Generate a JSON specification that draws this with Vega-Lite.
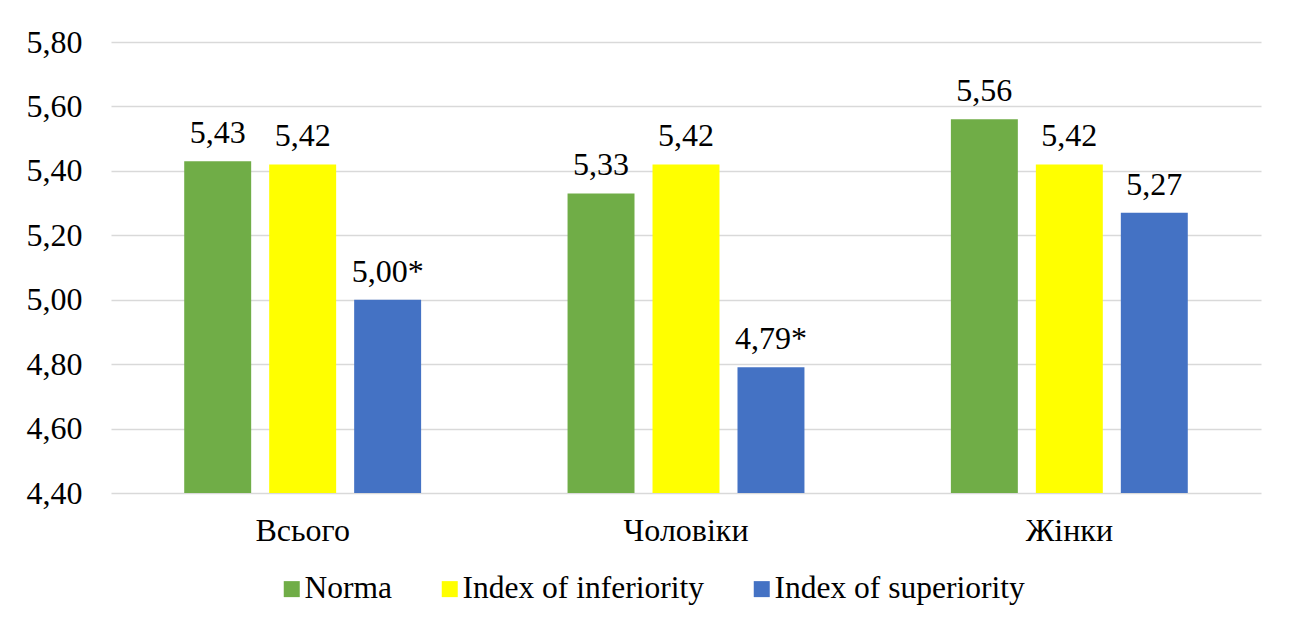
{
  "$schema": "https://vega.github.io/schema/vega-lite/v6.json",
  "width": 1150,
  "height": 451,
  "autosize": {"type": "none"},
  "padding": {"left": 111, "top": 42, "right": 34, "bottom": 131},
  "background": "white",
  "config": {
    "view": {"stroke": null},
    "font": "Liberation Serif",
    "text": {"font": "Liberation Serif"}
  },
  "data": {
    "values": [
      {"group": "Всього", "series": "Norma", "value": 5.43, "label": "5,43"},
      {"group": "Всього", "series": "Index of inferiority", "value": 5.42, "label": "5,42"},
      {"group": "Всього", "series": "Index of superiority", "value": 5.00, "label": "5,00*"},
      {"group": "Чоловіки", "series": "Norma", "value": 5.33, "label": "5,33"},
      {"group": "Чоловіки", "series": "Index of inferiority", "value": 5.42, "label": "5,42"},
      {"group": "Чоловіки", "series": "Index of superiority", "value": 4.79, "label": "4,79*"},
      {"group": "Жінки", "series": "Norma", "value": 5.56, "label": "5,56"},
      {"group": "Жінки", "series": "Index of inferiority", "value": 5.42, "label": "5,42"},
      {"group": "Жінки", "series": "Index of superiority", "value": 5.27, "label": "5,27"}
    ]
  },
  "encoding": {
    "x": {
      "field": "group", "type": "nominal",
      "sort": ["Всього", "Чоловіки", "Жінки"],
      "scale": {"paddingInner": 0.382, "paddingOuter": 0.191},
      "axis": {
        "title": null, "labelAngle": 0, "domain": false, "ticks": false,
        "labelFont": "Liberation Serif", "labelFontSize": 32, "labelColor": "#000000",
        "labelPadding": 22
      }
    },
    "xOffset": {
      "field": "series", "type": "nominal",
      "sort": ["Norma", "Index of inferiority", "Index of superiority"],
      "scale": {"paddingInner": 0.212, "paddingOuter": 0}
    },
    "y": {
      "field": "value", "type": "quantitative",
      "scale": {"domain": [4.4, 5.8], "zero": false, "nice": false},
      "axis": {
        "title": null, "domain": false, "ticks": false, "tickSize": 0,
        "values": [4.4, 4.6, 4.8, 5.0, 5.2, 5.4, 5.6, 5.8],
        "labelExpr": "replace(format(datum.value, '.2f'), '.', ',')",
        "labelFont": "Liberation Serif", "labelFontSize": 32, "labelColor": "#000000",
        "labelPadding": 29,
        "gridColor": "#d9d9d9", "gridWidth": 1.5
      }
    }
  },
  "layer": [
    {
      "mark": {"type": "bar", "clip": true},
      "encoding": {
        "y2": {"datum": 4.4},
        "color": {
          "field": "series", "type": "nominal",
          "sort": ["Norma", "Index of inferiority", "Index of superiority"],
          "scale": {
            "domain": ["Norma", "Index of inferiority", "Index of superiority"],
            "range": ["#70AD47", "#FFFF00", "#4472C4"]
          },
          "legend": {
            "title": null,
            "orient": "none",
            "legendX": 165,
            "legendY": 531,
            "direction": "horizontal",
            "symbolType": "square",
            "symbolSize": 256,
            "symbolStrokeWidth": 0,
            "labelFont": "Liberation Serif",
            "labelFontSize": 31.5,
            "labelColor": "#000000",
            "labelLimit": 0,
            "labelOffset": -3,
            "columnPadding": 42,
            "padding": 0
          }
        }
      }
    },
    {
      "mark": {"type": "text", "baseline": "alphabetic", "dy": -18, "fontSize": 32, "font": "Liberation Serif", "color": "#000000"},
      "encoding": {
        "text": {"field": "label"}
      }
    }
  ]
}
